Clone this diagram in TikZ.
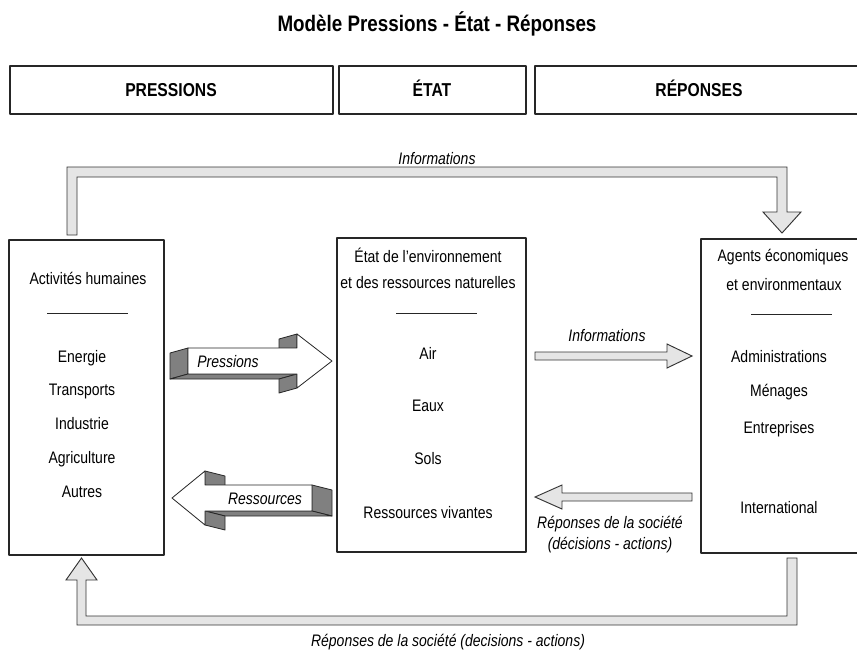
\documentclass[tikz,border=0pt]{standalone}
\usepackage{fontspec}
\setmainfont{Liberation Sans}[FakeStretch=0.84]
\usetikzlibrary{fit}
\tikzset{
  box/.style={draw=black!85, line width=0.8pt, inner sep=0pt},
  sep/.style={draw=black!85, line width=0.7pt},
  txt/.style={inner sep=0pt, text height=9pt, text depth=0pt, font=\fontsize{12.5}{15}\selectfont},
  lbl/.style={txt, font=\fontsize{12.5}{15}\selectfont\itshape},
  head/.style={inner sep=0pt, text height=10pt, text depth=0pt, font=\fontsize{14}{17}\selectfont\bfseries},
  hollow/.style={draw=black!80, fill=black!10, line width=0.7pt, line join=miter},
  face/.style={draw=black!85, fill=black!50, line width=0.6pt},
  front/.style={draw=black!85, fill=white, line width=0.6pt}
}
% fleche en relief : bout, dos de la pointe, pointe, milieu, profondeur
\newcommand{\blockarrow}[5]{%
  \filldraw[face] (#1,{#4-13}) -- (#1,{#4+13}) -- ({#1+#5},{#4+18}) -- ({#1+#5},{#4-8}) -- cycle;
  \filldraw[face] (#1,{#4+13}) -- (#2,{#4+13}) -- ({#2+#5},{#4+18}) -- ({#1+#5},{#4+18}) -- cycle;
  \filldraw[face] (#2,{#4+13}) -- (#2,{#4+27}) -- ({#2+#5},{#4+32}) -- ({#2+#5},{#4+18}) -- cycle;
  \filldraw[face] (#2,{#4-27}) -- (#2,{#4-13}) -- ({#2+#5},{#4-8}) -- ({#2+#5},{#4-22}) -- cycle;
  \filldraw[front] (#1,{#4-13}) -- (#2,{#4-13}) -- (#2,{#4-27}) -- (#3,#4) -- (#2,{#4+27}) -- (#2,{#4+13}) -- (#1,{#4+13}) -- cycle;
}
\begin{document}
\begin{tikzpicture}[x=0.75pt, y=-0.75pt, line join=round]
\useasboundingbox (0,0) rectangle (857,651);
\clip (0,0) rectangle (857,651);
% titre et bandeau
\node[font=\fontsize{16.8}{20}\selectfont\bfseries, inner sep=0pt, text height=12pt, text depth=0pt] (titre) at (437,23) {Modèle Pressions - État - Réponses};
\node[box, line width=0.9pt, fit={(10,66) (333,114)}] (hp) {};
\node[box, line width=0.9pt, fit={(339,66) (526,114)}] (he) {};
\node[box, line width=0.9pt, fit={(535,66) (864,114)}] (hr) {};
\node[head] (tp) at (171,90) {PRESSIONS};
\node[head] (te) at (432,90) {ÉTAT};
\node[head] (tr) at (699,90) {RÉPONSES};
% les trois blocs
\node[box, fit={(9,240) (164,555)}] (act) {};
\node[box, fit={(337,238) (526,552)}] (etat) {};
\node[box, fit={(701,239) (864,553)}] (agents) {};
\node[txt] (act0) at (88,278) {Activités humaines};
\draw[sep] (47,313) -- (128,313);
\foreach \t [count=\i] in {Energie,Transports,Industrie,Agriculture,Autres}
  \node[txt] (act\i) at (82,{356+33.75*(\i-1)}) {\t};
\node[txt] (etat0) at (428,256) {État de l’environnement};
\node[txt] (etat00) at (428,282) {et des ressources naturelles};
\draw[sep] (396,313) -- (477,313);
\foreach \t/\y [count=\i] in {Air/353,Eaux/405,Sols/458,Ressources vivantes/512}
  \node[txt] (etat\i) at (428,\y) {\t};
\node[txt] (agents0) at (783,255) {Agents économiques};
\node[txt] (agents00) at (784,284) {et environmentaux};
\draw[sep] (751,314) -- (832,314);
\foreach \t/\y [count=\i] in {Administrations/356,Ménages/390,Entreprises/427,International/507}
  \node[txt] (agents\i) at (779,\y) {\t};
% fleches en relief
\blockarrow{188}{297}{332}{361}{-18}
\node[lbl] (press) at (228,361) {Pressions};
\blockarrow{312}{205}{172}{498}{20}
\node[lbl] (ress) at (265,498) {Ressources};
% fleches creuses
\draw[hollow] (535,352) -- (667,352) -- (667,344) -- (692,356) -- (667,368) -- (667,360) -- (535,360) -- cycle;
\node[lbl] (info) at (607,335) {Informations};
\draw[hollow] (692,493) -- (562,493) -- (562,485) -- (535,497) -- (562,509) -- (562,501) -- (692,501) -- cycle;
\node[lbl] (rep1) at (610,522) {Réponses de la société};
\node[lbl] (rep2) at (610,543) {(décisions - actions)};
\draw[hollow] (67,235) -- (67,167) -- (787,167) -- (787,212) -- (801,212) -- (782,233) -- (763,212) -- (777,212) -- (777,177) -- (77,177) -- (77,235) -- cycle;
\node[lbl] (infohaut) at (437,158) {Informations};
\draw[hollow] (797,558) -- (797,625) -- (77,625) -- (77,580) -- (66,580) -- (81.5,558) -- (97,580) -- (86,580) -- (86,616) -- (787,616) -- (787,558) -- cycle;
\node[lbl] (repbas) at (448,640) {Réponses de la société (decisions - actions)};
\end{tikzpicture}
\end{document}
